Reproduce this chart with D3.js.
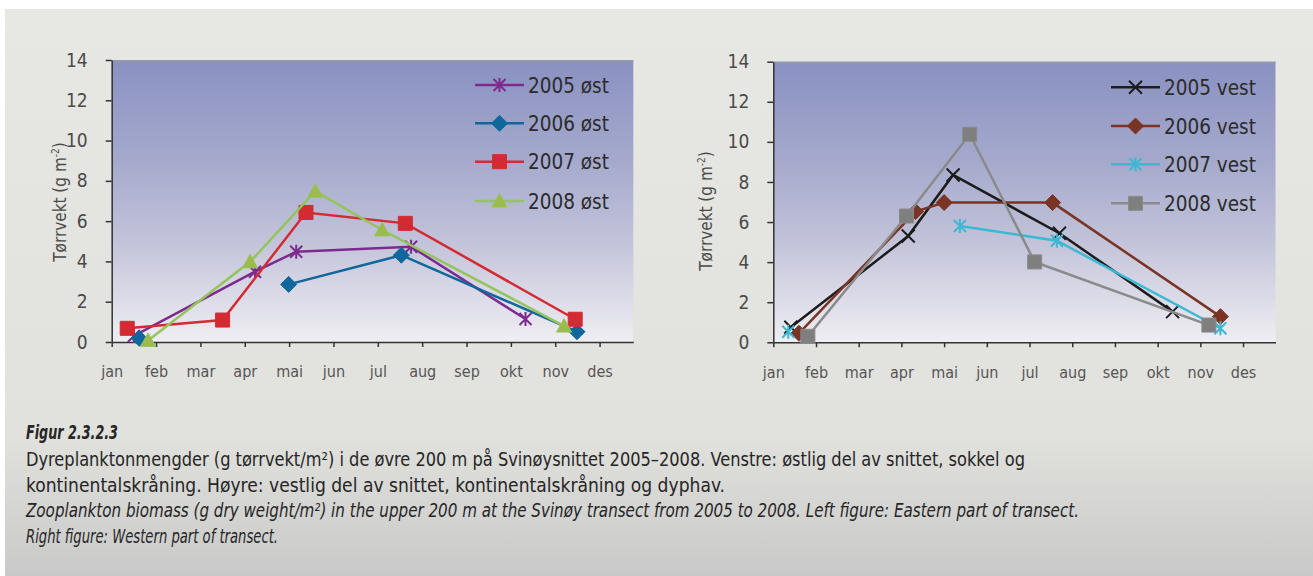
<!DOCTYPE html>
<html>
<head>
<meta charset="utf-8">
<script src="https://cdn.jsdelivr.net/npm/d3@7"></script>
<style>
  body { margin: 0; background: #fff; }
  svg text { font-family: 'Liberation Sans Narrow', 'DejaVu Sans Condensed', sans-serif; }
</style>
</head>
<body>
<svg id="figure" width="1313" height="576"></svg>
<script>
/** axis labels */
var months = ['jan', 'feb', 'mar', 'apr', 'mai', 'jun', 'jul', 'aug', 'sep', 'okt', 'nov', 'des']
var yTicks = [0, 2, 4, 6, 8, 10, 12, 14]
var yTitle = ['Tørrvekt (g m', '-2', ')']

/** left figure: eastern part (x = months since 1 jan, y = g/m2, null = no sample) */
var eastNames = ['2005 øst', '2006 øst', '2007 øst', '2008 øst']
var east2005x = [0.5, 3.23, 4.16, 6.75, 9.33]
var east2005y = [0.3, 3.49, 4.48, 4.73, 1.14]
var east2006x = [0.62, 2.5, 3.99, 6.53, 10.49]
var east2006y = [0.18, null, 2.86, 4.31, 0.51]
var east2007x = [0.35, 2.5, 4.38, 6.62, 10.45]
var east2007y = [0.68, 1.09, 6.43, 5.89, 1.13]
var east2008x = [0.82, 3.12, 4.59, 6.1, 10.2]
var east2008y = [0.08, 3.98, 7.49, 5.56, 0.79]

/** right figure: western part */
var westNames = ['2005 vest', '2006 vest', '2007 vest', '2008 vest']
var west2005x = [0.41, 3.16, 4.21, 6.7, 9.35]
var west2005y = [0.75, 5.3, 8.35, 5.44, 1.53]
var west2006x = [0.6, 3.33, 4.0, 6.54, 10.47]
var west2006y = [0.45, 6.52, 6.97, 6.97, 1.28]
var west2007x = [0.35, 3.16, 4.37, 6.64, 10.47]
var west2007y = [0.53, null, 5.8, 5.07, 0.7]
var west2008x = [0.81, 3.12, 4.6, 6.12, 10.2]
var west2008y = [0.3, 6.3, 10.38, 4.01, 0.86]

/** caption */
var captionLines = [
  'Figur 2.3.2.3',
  'Dyreplanktonmengder (g tørrvekt/m²) i de øvre 200 m på Svinøysnittet 2005–2008. Venstre: østlig del av snittet, sokkel og',
  'kontinentalskråning. Høyre: vestlig del av snittet, kontinentalskråning og dyphav.',
  'Zooplankton biomass (g dry weight/m²) in the upper 200 m at the Svinøy transect from 2005 to 2008. Left figure: Eastern part of transect.',
  'Right figure: Western part of transect.'
]

var svg = d3.select('#figure')
var defs = svg.append('defs')

/** page background */
var pg = defs.append('linearGradient').attr('id', 'pageGrad').attr('x1', 0).attr('y1', 0).attr('x2', 0).attr('y2', 1)
pg.append('stop').attr('offset', '0%').attr('stop-color', '#e7e7e3')
pg.append('stop').attr('offset', '75%').attr('stop-color', '#e1e1dd')
pg.append('stop').attr('offset', '100%').attr('stop-color', '#c9c9c9')
svg.append('rect').attr('x', 5).attr('y', 9).attr('width', 1308).attr('height', 567).attr('fill', 'url(#pageGrad)')

/** plot background */
var bg = defs.append('linearGradient').attr('id', 'plotGrad').attr('x1', 0).attr('y1', 0).attr('x2', 0).attr('y2', 1)
bg.append('stop').attr('offset', '0%').attr('stop-color', '#8a91c1')
bg.append('stop').attr('offset', '35%').attr('stop-color', '#a4a9cc')
bg.append('stop').attr('offset', '65%').attr('stop-color', '#c3c4da')
bg.append('stop').attr('offset', '100%').attr('stop-color', '#efeef3')

function markerPath (type) {
  if (type == 'square') return 'M-7,-7h14v14h-14Z'
  if (type == 'diamond') return 'M0,-8L8,0L0,8L-8,0Z'
  if (type == 'triangle') return 'M0,-7.5L7.5,6L-7.5,6Z'
  if (type == 'star') return 'M-6,-6L6,6M-6,6L6,-6M0,-7L0,7'
  return 'M-6.5,-6.5L6.5,6.5M-6.5,6.5L6.5,-6.5'
}

function drawMarker (g, type, color, fill, px, py) {
  var open = (type == 'star' || type == 'cross')
  g.append('path').attr('d', markerPath(type)).attr('transform', 'translate(' + px + ',' + py + ')')
    .attr('fill', open ? 'none' : fill).attr('stroke', color).attr('stroke-width', open ? 2 : 1)
}

function drawPanel (p) {
  var x = d3.scaleLinear().domain([0, 11.76]).range([p.left, p.right])
  var y = d3.scaleLinear().domain([0, 14]).range([p.bottom, p.top])
  var g = svg.append('g')

  g.append('rect').attr('x', p.left).attr('y', p.top).attr('width', p.right - p.left).attr('height', p.bottom - p.top).attr('fill', 'url(#plotGrad)')
  g.append('line').attr('x1', p.left).attr('x2', p.right).attr('y1', p.top + 1).attr('y2', p.top + 1).attr('stroke', '#9198b0').attr('stroke-width', 2)

  /** axes */
  var ya = g.append('g').attr('transform', 'translate(' + p.left + ',0)')
    .call(d3.axisLeft(y).tickValues(yTicks).tickSize(6).tickSizeOuter(0).tickPadding(18))
  ya.selectAll('text').attr('font-size', 19).attr('fill', '#4a4a4a')
  var xa = g.append('g').attr('transform', 'translate(0,' + p.bottom + ')')
    .call(d3.axisBottom(x).tickValues(d3.range(12)).tickFormat(function (d) { return months[d] }).tickSize(5).tickSizeOuter(0).tickPadding(19))
  xa.selectAll('text').attr('font-size', 16).attr('fill', '#555')
  g.selectAll('.domain, .tick line').attr('stroke', '#333').attr('stroke-width', 1.5)
  g.selectAll('text').style('font-family', "'Liberation Sans Narrow', 'DejaVu Sans Condensed', sans-serif")

  var tt = g.append('text').attr('transform', 'translate(' + p.titleX + ',' + p.titleY + ') rotate(-90)')
    .attr('text-anchor', 'middle').attr('font-size', 17).attr('fill', '#4a4a4a')
  tt.append('tspan').text(yTitle[0])
  tt.append('tspan').attr('font-size', 10).attr('dy', -7).text(yTitle[1])
  tt.append('tspan').attr('dy', 7).text(yTitle[2])

  /** series, gaps where a sample is missing */
  var line = d3.line().defined(function (d) { return d[1] != null })
    .x(function (d) { return x(d[0]) }).y(function (d) { return y(d[1]) })
  for (var s = 0; s < p.xs.length; s++) {
    var pts = d3.zip(p.xs[s], p.ys[s])
    g.append('path').datum(pts).attr('d', line).attr('fill', 'none').attr('stroke', p.colors[s]).attr('stroke-width', 2.5)
    for (var k = 0; k < pts.length; k++) {
      if (pts[k][1] == null) continue
      drawMarker(g, p.markers[s], p.colors[s], p.fills[s], x(pts[k][0]), y(pts[k][1]))
    }
  }

  /** legend */
  for (var j = 0; j < p.names.length; j++) {
    var ly = p.legY[j]
    g.append('line').attr('x1', p.legX).attr('x2', p.legX + 49).attr('y1', ly).attr('y2', ly).attr('stroke', p.colors[j]).attr('stroke-width', 2.5)
    drawMarker(g, p.markers[j], p.colors[j], p.fills[j], p.legX + 24.5, ly)
    g.append('text').attr('x', p.legX + 53).attr('y', ly + 7.5).attr('font-size', 20.5).attr('fill', '#2b2b2b').text(p.names[j])
  }
}

drawPanel({
  left: 111.7, right: 633.3, top: 60, bottom: 342,
  titleX: 66, titleY: 202,
  xs: [east2005x, east2006x, east2007x, east2008x],
  ys: [east2005y, east2006y, east2007y, east2008y],
  names: eastNames,
  colors: ['#7d2a8f', '#0f679b', '#d42a32', '#95c45c'],
  fills: ['#7d2a8f', '#0f679b', '#d42a32', '#9dbb4a'],
  markers: ['star', 'diamond', 'square', 'triangle'],
  legX: 475, legY: [85, 123.3, 161.7, 201]
})

drawPanel({
  left: 773.3, right: 1275.5, top: 61.7, bottom: 342.3,
  titleX: 712, titleY: 211,
  xs: [west2005x, west2006x, west2007x, west2008x],
  ys: [west2005y, west2006y, west2007y, west2008y],
  names: westNames,
  colors: ['#1c1c1c', '#7a3423', '#3db8d3', '#8a8a8a'],
  fills: ['#1c1c1c', '#7a3423', '#3db8d3', '#7f7f7f'],
  markers: ['cross', 'diamond', 'star', 'square'],
  legX: 1111, legY: [87.3, 126, 164.3, 203.3]
})

/** caption */
var capY = [439, 466, 491.5, 517, 543]
var capW = [92, 999, 699, 1053, 252]
var cap = svg.append('g')
for (var c = 0; c < captionLines.length; c++) {
  var t = cap.append('text').attr('x', 26).attr('y', capY[c]).attr('font-size', 19).attr('fill', '#262626')
    .attr('textLength', capW[c]).attr('lengthAdjust', 'spacingAndGlyphs').text(captionLines[c])
  if (c == 0) t.attr('font-weight', 'bold').attr('font-style', 'italic')
  if (c >= 3) t.attr('font-style', 'italic')
}
</script>
</body>
</html>
